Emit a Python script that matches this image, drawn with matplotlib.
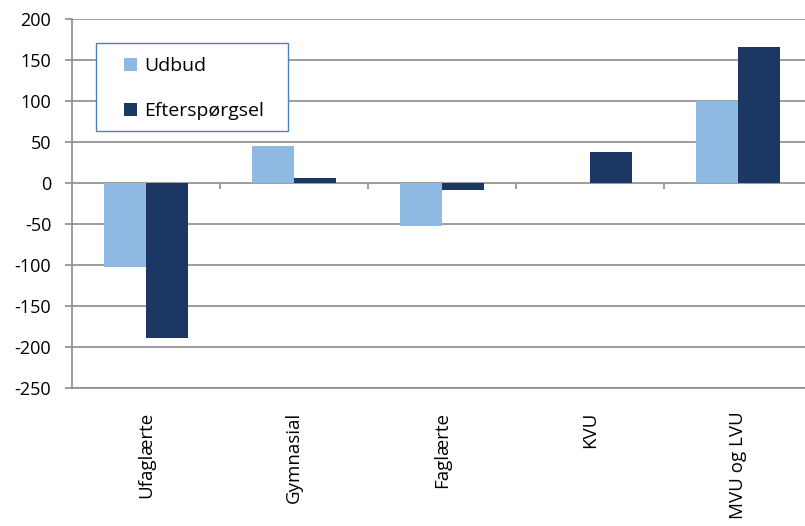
import matplotlib.pyplot as plt
import numpy as np
from matplotlib.patches import Rectangle

categories = ['Ufaglærte', 'Gymnasial', 'Faglærte', 'KVU', 'MVU og LVU']
udbud = [-103, 45, -52, 0, 100]
efterspoergsel = [-189, 6, -8, 38, 166]

light = '#8DB9E2'
dark = '#1C3764'
grid_col = '#8C8C8C'

plt.rcParams['font.family'] = ['Open Sans', 'DejaVu Sans']
plt.rcParams['axes.unicode_minus'] = False

fig = plt.figure(figsize=(8.05, 5.26), dpi=100)
ax = fig.add_axes([72 / 805, 1 - 388 / 526, 740 / 805, 369 / 526])

x = np.arange(len(categories))
w = 0.285
ax.bar(x - w / 2, udbud, w, color=light, label='Udbud', zorder=3)
ax.bar(x + w / 2, efterspoergsel, w, color=dark, label='Efterspørgsel', zorder=3)

ax.set_xlim(-0.5, len(categories) - 0.5)
ax.set_ylim(-250, 200)
ax.set_yticks(np.arange(-250, 201, 50))
ax.yaxis.grid(True, color=grid_col, linewidth=1.2, zorder=0)
ax.set_axisbelow(True)

# category ticks sit on the zero line
ax.plot(np.arange(len(categories) - 1) + 0.5, [0] * (len(categories) - 1),
        linestyle='none', marker=[(0, 0), (0, -1)], markersize=9,
        markeredgecolor=grid_col, markeredgewidth=1.2, zorder=2, clip_on=False)

ax.set_xticks(x)
ax.set_xticklabels(categories, rotation=90, fontsize=13.5)
ax.tick_params(axis='x', length=0, pad=17)
ax.tick_params(axis='y', length=5, width=1.2, color=grid_col, pad=10, labelsize=13)

for s in ['top', 'right']:
    ax.spines[s].set_visible(False)
for s in ['left', 'bottom']:
    ax.spines[s].set_color(grid_col)
    ax.spines[s].set_linewidth(1.2)

# legend box
ax.add_patch(Rectangle((24 / 740, (388 - 131) / 369), 192 / 740, 88 / 369,
                       transform=ax.transAxes, facecolor='white',
                       edgecolor='#4F81BD', linewidth=1.0, zorder=5))
leg = ax.legend(loc='upper left', bbox_to_anchor=(52 / 740, (388 - 57) / 369),
                frameon=False, fontsize=14, labelspacing=1.4,
                handlelength=0.68, handleheight=0.68, handletextpad=0.35,
                borderpad=0, borderaxespad=0)
leg.set_zorder(6)

fig.savefig('out.png', dpi=100)
